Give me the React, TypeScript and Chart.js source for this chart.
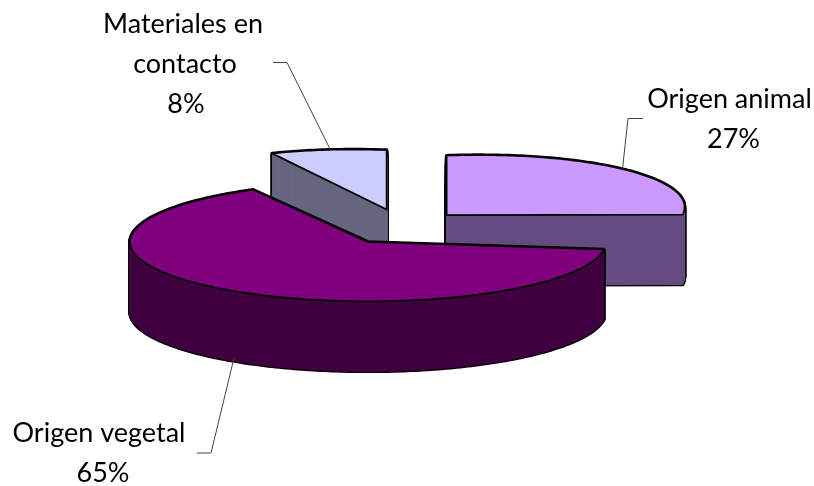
import React, { useEffect, useRef } from "react";
import { Chart, registerables } from "chart.js";

Chart.register(...registerables);

const categories = ["Origen animal", "Origen vegetal", "Materiales en contacto"];
const shares = [27, 65, 8];
const topColors = ["#CC99FF", "#800080", "#CCCCFF"];
const wallColors = ["#664C80", "#400040", "#666680"];
const drawOrder = [2, 0, 1];
const sliceSkew = [-0.034, 0, 0.035];

const WIDTH = 814;
const HEIGHT = 486;
const CENTER_X = 401.6;
const CENTER_Y = 227;
const RADIUS = 238;
const TILT = 0.25;
const EXPLODE = 60;
const EXPLODE_TILT = 0.3;
const DEPTH = 70;

const FONT = "27px Lato";
const labelLines: { index: number; rows: { text: string; x: number; y: number }[] }[] = [
  { index: 2, rows: [
    { text: "Materiales en", x: 183, y: 33 },
    { text: "contacto", x: 185, y: 73 },
    { text: "", x: 186, y: 113 },
  ] },
  { index: 0, rows: [
    { text: "Origen animal", x: 729.5, y: 108 },
    { text: "", x: 733.5, y: 148 },
  ] },
  { index: 1, rows: [
    { text: "Origen vegetal", x: 99, y: 442 },
    { text: "", x: 103, y: 482 },
  ] },
];
const leaders = [
  [[273, 62.5], [287, 62.5], [330, 149]],
  [[643, 118.5], [628, 118.5], [622.5, 169]],
  [[197, 453], [211, 453], [234, 358]],
];

function apexOf(arc: any) {
  const mid = (arc.startAngle + arc.endAngle) / 2;
  return [
    CENTER_X + EXPLODE * Math.cos(mid),
    CENTER_Y + EXPLODE * Math.sin(mid) * EXPLODE_TILT,
  ];
}

function slicePoints(arc: any, skew: number, dy: number) {
  const [ox, ay] = apexOf(arc);
  const oy = ay + dy;
  const pts: [number, number][] = [[ox, oy]];
  const steps = Math.ceil((arc.endAngle - arc.startAngle) * 60);
  for (let i = 0; i <= steps; i++) {
    const t = arc.startAngle + ((arc.endAngle - arc.startAngle) * i) / steps;
    const dx = arc.outerRadius * Math.cos(t);
    pts.push([ox + dx, oy + arc.outerRadius * Math.sin(t) * TILT + skew * dx]);
  }
  return pts;
}

function tracePoints(ctx: CanvasRenderingContext2D, pts: [number, number][]) {
  ctx.beginPath();
  pts.forEach(([x, y], i) => (i ? ctx.lineTo(x, y) : ctx.moveTo(x, y)));
  ctx.closePath();
}

const pie3d = {
  id: "pie3d",
  beforeDatasetDraw(chart: any, args: any) {
    const ctx: CanvasRenderingContext2D = chart.ctx;
    const arcs = args.meta.data;
    ctx.save();
    ctx.lineJoin = "round";
    for (const i of drawOrder) {
      const arc = arcs[i];
      const skew = sliceSkew[i];
      ctx.strokeStyle = "#000";
      ctx.lineWidth = 3.4;
      for (let dy = DEPTH; dy >= 0; dy--) {
        tracePoints(ctx, slicePoints(arc, skew, dy));
        ctx.stroke();
      }
      ctx.fillStyle = wallColors[i];
      ctx.strokeStyle = wallColors[i];
      ctx.lineWidth = 1;
      for (let dy = DEPTH; dy >= 0; dy--) {
        tracePoints(ctx, slicePoints(arc, skew, dy));
        ctx.fill();
        ctx.stroke();
      }
      const [ox, oy] = apexOf(arc);
      ctx.save();
      ctx.translate(ox, oy);
      ctx.transform(1, skew, 0, 1, 0, 0);
      ctx.scale(1, TILT);
      ctx.translate(-arc.x, -arc.y);
      arc.draw(ctx);
      ctx.restore();
      ctx.strokeStyle = "#000";
      ctx.lineWidth = 1.8;
      tracePoints(ctx, slicePoints(arc, skew, 0));
      ctx.stroke();
    }
    ctx.restore();
    return false;
  },
  afterDatasetsDraw(chart: any) {
    const ctx: CanvasRenderingContext2D = chart.ctx;
    ctx.save();
    ctx.strokeStyle = "#444";
    ctx.lineWidth = 1;
    for (const line of leaders) {
      ctx.beginPath();
      line.forEach(([x, y], i) => (i ? ctx.lineTo(x, y) : ctx.moveTo(x, y)));
      ctx.stroke();
    }
    ctx.fillStyle = "#000";
    ctx.font = FONT;
    ctx.textAlign = "center";
    ctx.textBaseline = "alphabetic";
    for (const label of labelLines) {
      for (const row of label.rows) {
        ctx.fillText(row.text || `${shares[label.index]}%`, row.x, row.y);
      }
    }
    ctx.restore();
  },
};

export default function App() {
  const ref = useRef<HTMLCanvasElement>(null);
  useEffect(() => {
    if (!ref.current) return;
    const chart = new Chart(ref.current, {
      type: "pie",
      data: {
        labels: categories,
        datasets: [{
          data: shares,
          backgroundColor: topColors,
          borderWidth: 0,
        }],
      },
      options: {
        animation: false,
        responsive: false,
        radius: RADIUS,
        layout: { padding: 0 },
        plugins: { legend: { display: false }, tooltip: { enabled: false }, title: { display: false } },
      } as any,
      plugins: [pie3d],
    });
    return () => chart.destroy();
  }, []);
  return (
    <div style={{ position: "fixed", left: 0, top: 0, width: WIDTH, height: HEIGHT, background: "#fff" }}>
      <canvas ref={ref} width={WIDTH} height={HEIGHT} style={{ display: "block" }} />
    </div>
  );
}
